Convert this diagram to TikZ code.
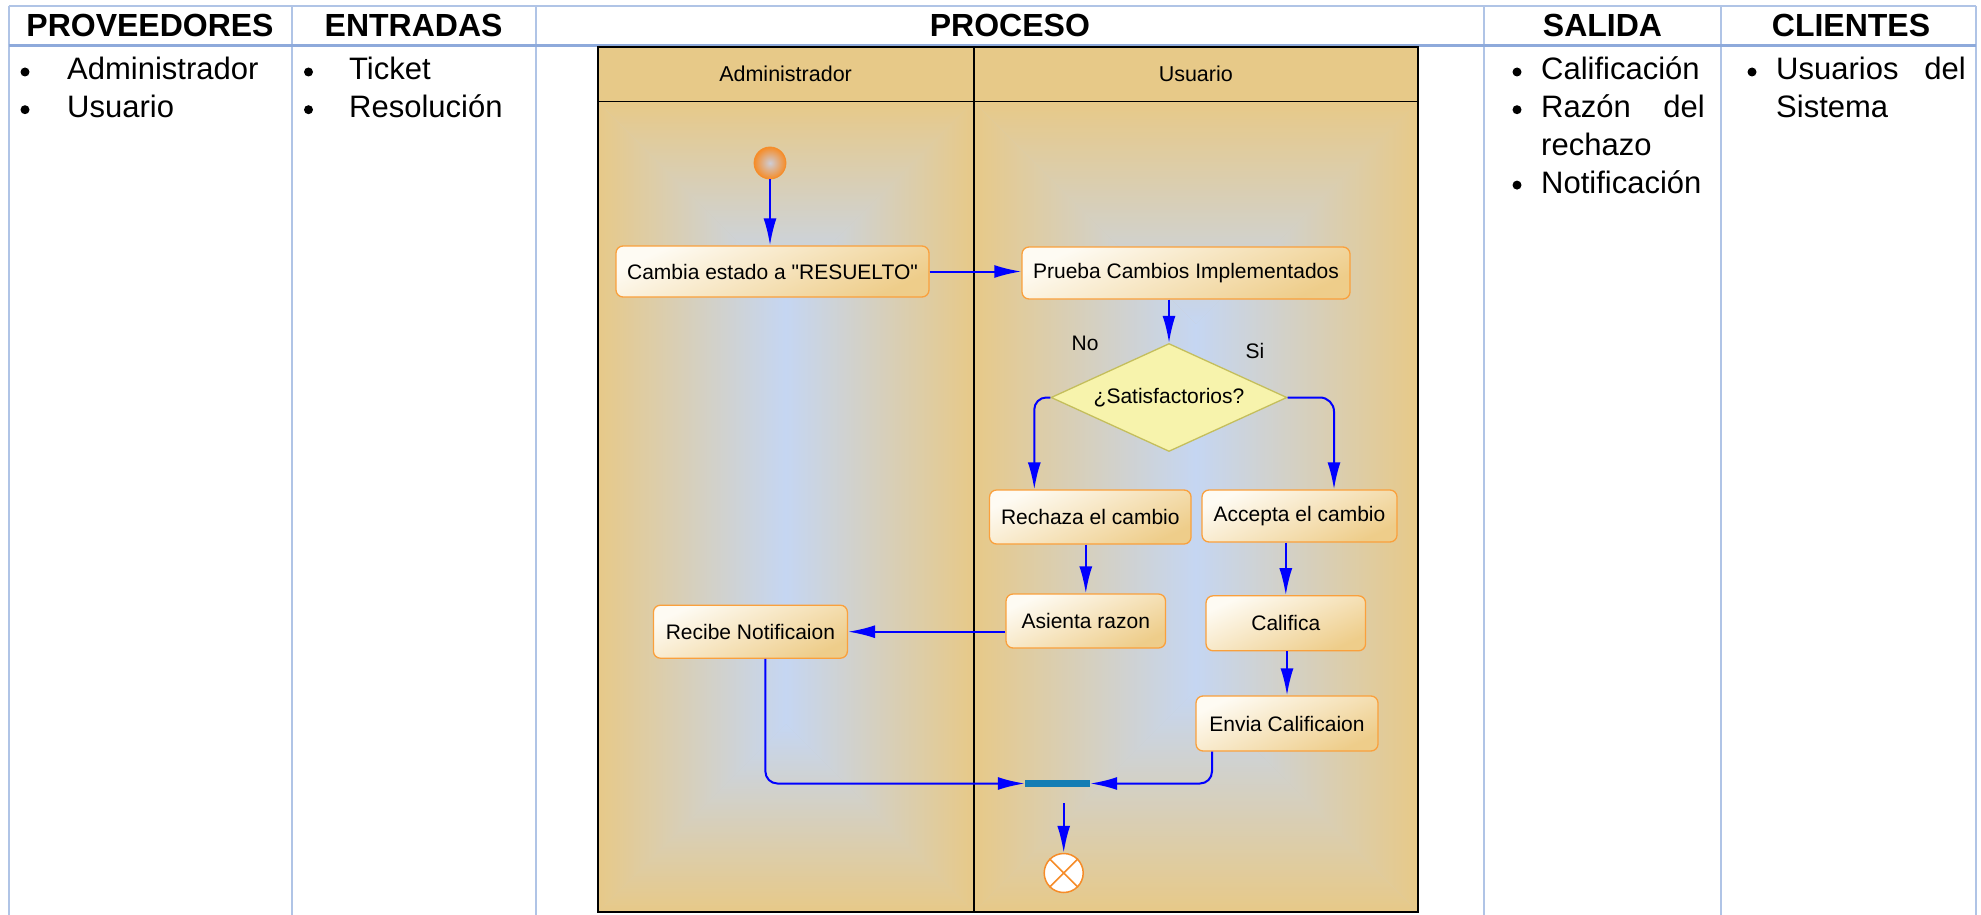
\documentclass[tikz,border=0pt]{standalone}
\usepackage{fontspec}
\setmainfont{Liberation Sans}
\newfontfamily\plainsans{Liberation Sans}
\usetikzlibrary{arrows.meta,shapes.geometric,calc}
\definecolor{lanetan}{RGB}{231,201,136}
\definecolor{laneblue}{RGB}{197,214,242}
\definecolor{lanemid}{RGB}{214,207,188}
\definecolor{tblline}{RGB}{176,196,230}
\definecolor{tblhead}{RGB}{142,170,219}
\definecolor{boxlight}{RGB}{254,251,243}
\definecolor{boxdark}{RGB}{238,205,138}
\definecolor{boxborder}{RGB}{250,160,60}
\definecolor{diafill}{RGB}{247,243,172}
\definecolor{diaborder}{RGB}{196,190,92}
\definecolor{barcol}{RGB}{20,125,180}
\definecolor{arrowblue}{RGB}{0,0,255}
\definecolor{startorange}{RGB}{246,140,40}
\definecolor{startlight}{RGB}{205,205,215}
% rectangular (pyramid) gradient for a swimlane body: left, right, top, bottom
\newcommand\lanegrad[4]{%
  \pgfmathsetmacro\lgC{(#1+#2)/2}%
  \pgfmathsetmacro\lgH{(#2-#1)/2}%
  \pgfmathsetmacro\lgU{#3+\lgH}%
  \pgfmathsetmacro\lgD{#4-\lgH}%
  \fill[lanemid] (#1,#3) rectangle (#2,#4);
  \shade[left color=lanetan, right color=laneblue] (#1,#3) -- (\lgC,\lgU) -- (\lgC,\lgD) -- (#1,#4) -- cycle;
  \shade[left color=laneblue, right color=lanetan] (#2,#3) -- (\lgC,\lgU) -- (\lgC,\lgD) -- (#2,#4) -- cycle;
  \shade[top color=lanetan, bottom color=laneblue] (#1,#3) -- (#2,#3) -- (\lgC,\lgU) -- cycle;
  \shade[top color=laneblue, bottom color=lanetan] (#1,#4) -- (#2,#4) -- (\lgC,\lgD) -- cycle;
}
\begin{document}
\begin{tikzpicture}[x=1pt,y=-1pt,
  every node/.style={font=\plainsans\fontsize{21}{25}\selectfont},
  act/.style={draw=boxborder, line width=1.3pt, rounded corners=7pt,
    top color=boxlight, bottom color=boxdark, shading angle=25,
    inner sep=0pt, align=center},
  flow/.style={draw=arrowblue, line width=2pt, -{Latex[length=27pt,width=13pt]}},
  hdr/.style={font=\plainsans\fontsize{32}{36}\selectfont\bfseries, anchor=base, inner sep=0pt},
  body/.style={font=\plainsans\fontsize{31}{37}\selectfont, anchor=base west, inner sep=0pt},
  bodyr/.style={font=\plainsans\fontsize{31}{37}\selectfont, anchor=base east, inner sep=0pt},
  lanelbl/.style={font=\plainsans\fontsize{21.5}{25}\selectfont, inner sep=0pt},
  tline/.style={draw=tblline, line width=2pt},
  bul/.style={fill=black}
]
\useasboundingbox (0,0) rectangle (1981,915);
\fill[white] (0,0) rectangle (1981,915);

% ---- table ----
\draw[tline] (8.5,6) -- (1976,6);
\foreach \cx in {8.5,291.5,535.7,1484,1721,1976}
  \draw[tline] (\cx,6) -- (\cx,915);
\draw[draw=tblhead, line width=3.5pt] (8.5,45.5) -- (1976,45.5);

\node[hdr] (hprov) at (150,36.5) {PROVEEDORES};
\node[hdr] (hent) at (413.6,36.5) {ENTRADAS};
\node[hdr] (hproc) at (1009.9,36.5) {PROCESO};
\node[hdr] (hsal) at (1602.5,36.5) {SALIDA};
\node[hdr] (hcli) at (1851,36.5) {CLIENTES};

% column texts
\fill[bul] (25,72) circle (4.5pt);
\fill[bul] (25,109.7) circle (4.5pt);
\node[body] (p1) at (67,80) {Administrador};
\node[body] (p2) at (67,117.7) {Usuario};

\fill[bul] (308.5,72) circle (4.5pt);
\fill[bul] (308.5,109.7) circle (4.5pt);
\node[body] (e1) at (349,80) {Ticket};
\node[body] (e2) at (349,117.7) {Resolución};

\fill[bul] (1517,72) circle (4.5pt);
\fill[bul] (1517,109.7) circle (4.5pt);
\fill[bul] (1517,185.1) circle (4.5pt);
\node[body] (s1) at (1541,80) {Calificación};
\node[body] (s2) at (1541,117.7) {Razón};
\node[bodyr] (s2b) at (1705,117.7) {del};
\node[body] (s3) at (1541,155.4) {rechazo};
\node[body] (s4) at (1541,193.1) {Notificación};

\fill[bul] (1752,72) circle (4.5pt);
\node[body] (c1) at (1776,80) {Usuarios};
\node[bodyr] (c1b) at (1966,80) {del};
\node[body] (c2) at (1776,117.7) {Sistema};

% ---- swimlane pool ----
\lanegrad{597.5}{973.7}{101.7}{912}
\lanegrad{973.7}{1418}{101.7}{912}
\fill[lanetan] (597.5,47.3) rectangle (1418,101.7);
\draw[line width=1.6pt] (597.5,101.7) -- (1418,101.7);
\draw[line width=1.6pt] (973.7,47.3) -- (973.7,912);
\draw[line width=2pt] (597.5,47.3) rectangle (1418,912);
\node[lanelbl] (ladm) at (785.6,74) {Administrador};
\node[lanelbl] (lusu) at (1195.8,74) {Usuario};

% ---- activity nodes ----
\node[circle, minimum size=32pt, inner sep=0pt, inner color=startlight,
      outer color=startorange, draw=startorange, line width=0.8pt] (start) at (770,163) {};
\node[act, minimum width=313pt, minimum height=51pt] (cambia) at (772.5,271.5)
  {Cambia estado a "RESUELTO"};
\node[act, minimum width=328pt, minimum height=52pt] (prueba) at (1186,273)
  {Prueba Cambios Implementados};
\node[diamond, aspect=2.185, draw=diaborder, fill=diafill, line width=1.3pt,
      minimum width=236pt, minimum height=108pt, inner sep=0pt] (sat) at (1169,397.5)
  {¿Satisfactorios?};
\node[inner sep=0pt] (lno) at (1085,343) {No};
\node[inner sep=0pt] (lsi) at (1255,351) {Si};
\node[act, minimum width=201.5pt, minimum height=54pt] (rechaza) at (1090.3,517)
  {Rechaza el cambio};
\node[act, minimum width=195pt, minimum height=52pt] (accepta) at (1299.5,516)
  {Accepta el cambio};
\node[act, minimum width=159.5pt, minimum height=54pt] (asienta) at (1085.8,621)
  {Asienta razon};
\node[act, minimum width=159.5pt, minimum height=55pt] (califica) at (1285.8,623.3)
  {Califica};
\node[act, minimum width=182pt, minimum height=55pt] (envia) at (1287,723.5)
  {Envia Calificaion};
\node[act, minimum width=194pt, minimum height=53pt] (recibe) at (750.4,631.7)
  {Recibe Notificaion};
\node[fill=barcol, minimum width=65pt, minimum height=7pt, inner sep=0pt] (bar) at (1057.5,783.5) {};
\node[circle, minimum size=39pt, inner sep=0pt, fill=white, draw=startorange,
      line width=1.5pt] (final) at (1063.7,873) {};
\draw[startorange, line width=1.5pt] (final.north west) -- (final.south east)
  (final.north east) -- (final.south west);

% ---- connectors ----
\draw[flow] (start.south) -- (start.south |- cambia.north);
\draw[flow] (cambia.east) -- (cambia.east -| prueba.west);
\draw[flow] (sat.north |- prueba.south) -- (sat.north);
\draw[flow, rounded corners=12pt] (sat.west) -| ([xshift=-56pt]rechaza.north);
\draw[flow, rounded corners=14pt] (sat.east) -| ([xshift=34.5pt]accepta.north);
\draw[flow] (asienta.north |- rechaza.south) -- (asienta.north);
\draw[flow] (califica.north |- accepta.south) -- (califica.north);
\draw[flow] (envia.north |- califica.south) -- (envia.north);
\draw[flow] (asienta.west |- recibe.east) -- (recibe.east);
\draw[flow, rounded corners=12pt] ([xshift=15pt]recibe.south) |- (bar.west);
\draw[flow, rounded corners=12pt] ([xshift=-75pt]envia.south) |- (bar.east);
\draw[flow] ([yshift=-16pt]final.north |- bar.south) -- (final.north);
\end{tikzpicture}
\end{document}
